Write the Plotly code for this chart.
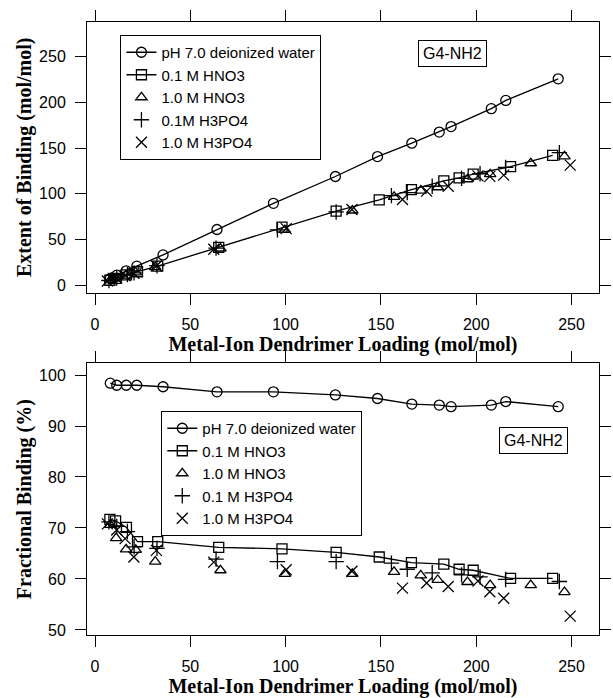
import plotly.graph_objects as go

# ---------------- data ----------------
names = ["pH 7.0 deionized water", "0.1 M HNO3", "1.0 M HNO3", "0.1M H3PO4", "1.0 M H3PO4"]
names_bottom = ["pH 7.0 deionized water", "0.1 M HNO3", "1.0 M HNO3", "0.1 M H3PO4", "1.0 M H3PO4"]

x_water = [8.0, 11.4, 16.4, 21.9, 35.7, 64.0, 93.6, 126.1, 148.2, 166.2, 180.6, 186.8, 207.9, 215.5, 243.0]
ext_water = [7.6, 11.0, 15.8, 20.9, 33.2, 61.0, 89.6, 119.0, 140.8, 155.4, 167.6, 173.6, 193.2, 202.2, 225.8]
frac_water = [98.4, 98.0, 98.0, 98.0, 97.7, 96.7, 96.7, 96.1, 95.4, 94.3, 94.1, 93.8, 94.1, 94.8, 93.8]

x_hno3_01 = [7.8, 10.8, 16.5, 22.3, 32.9, 64.9, 98.1, 126.5, 149.1, 166.0, 183.0, 191.0, 198.4, 218.0, 240.1]
ext_hno3_01 = [5.5, 7.6, 11.4, 14.8, 21.0, 41.5, 63.5, 81.2, 93.5, 104.7, 114.2, 117.5, 121.5, 129.8, 142.0]
frac_hno3_01 = [71.7, 71.4, 70.1, 67.3, 67.3, 66.2, 65.9, 65.2, 64.3, 63.2, 62.9, 61.9, 61.7, 60.1, 60.1]

x_hno3_10 = [8.0, 11.1, 16.3, 21.4, 31.6, 65.8, 99.6, 135.0, 156.9, 170.9, 179.8, 195.4, 207.3, 228.6, 246.3]
ext_hno3_10 = [5.6, 7.4, 10.6, 14.0, 19.8, 40.2, 60.5, 81.8, 96.8, 103.5, 107.2, 116.0, 121.5, 133.5, 141.0]
frac_hno3_10 = [70.6, 68.0, 65.8, 65.7, 63.4, 61.7, 61.0, 61.0, 61.4, 60.7, 59.8, 59.4, 58.8, 58.8, 57.4]

x_h3po4_01 = [7.3, 11.4, 17.0, 20.5, 32.5, 63.5, 95.7, 126.5, 155.5, 163.8, 176.9, 192.3, 202.0, 215.4, 243.6]
ext_h3po4_01 = [5.2, 8.0, 11.8, 13.6, 21.4, 40.6, 60.7, 80.2, 98.1, 101.4, 108.3, 116.9, 122.0, 129.0, 145.0]
frac_h3po4_01 = [71.2, 70.3, 69.3, 66.3, 66.0, 63.9, 63.4, 63.4, 63.1, 61.9, 61.2, 60.8, 60.4, 59.9, 59.5]

x_h3po4_10 = [6.5, 11.4, 15.8, 20.4, 32.2, 62.3, 100.3, 134.8, 161.3, 174.0, 185.3, 200.9, 207.1, 214.4, 249.3]
ext_h3po4_10 = [4.6, 7.9, 10.7, 13.1, 21.1, 39.4, 62.0, 82.9, 93.9, 103.0, 108.4, 119.7, 119.1, 120.5, 131.4]
frac_h3po4_10 = [70.8, 69.6, 67.9, 64.3, 65.6, 63.3, 61.8, 61.5, 58.2, 59.2, 58.5, 59.6, 57.5, 56.2, 52.7]

x_ticks = [0, 50, 100, 150, 200, 250]
y_ticks_top = [0, 50, 100, 150, 200, 250]
y_ticks_bottom = [50, 60, 70, 80, 90, 100]

# ---------------- styles ----------------
symbols = ["circle-open", "square-open", "triangle-up-open", "cross-thin-open", "x-thin-open"]
sizes = [10, 10, 10, 11, 11]
modes = ["lines+markers", "lines+markers", "markers", "markers", "markers"]

xs = [x_water, x_hno3_01, x_hno3_10, x_h3po4_01, x_h3po4_10]
exts = [ext_water, ext_hno3_01, ext_hno3_10, ext_h3po4_01, ext_h3po4_10]
fracs = [frac_water, frac_hno3_01, frac_hno3_10, frac_h3po4_01, frac_h3po4_10]

fig = go.Figure()
for i in range(5):
    fig.add_trace(go.Scatter(
        x=xs[i], y=exts[i], name=names[i], mode=modes[i],
        xaxis="x", yaxis="y", legend="legend",
        line=dict(color="black", width=1.3),
        marker=dict(symbol=symbols[i], size=sizes[i], color="black",
                    line=dict(color="black", width=1.3)),
    ))
for i in range(5):
    fig.add_trace(go.Scatter(
        x=xs[i], y=fracs[i], name=names_bottom[i], mode=modes[i],
        xaxis="x2", yaxis="y2", legend="legend2",
        line=dict(color="black", width=1.3),
        marker=dict(symbol=symbols[i], size=sizes[i], color="black",
                    line=dict(color="black", width=1.3)),
    ))

sans = "Liberation Sans, Arial, sans-serif"
tick_font = dict(family=sans, size=16, color="black")
title_font = dict(family="Liberation Serif, Times New Roman, serif", size=20, color="black", weight="bold")

axis_common = dict(
    showline=True, linecolor="black", linewidth=1, mirror="ticks",
    ticks="outside", ticklen=11, tickwidth=1, tickcolor="black",
    showgrid=False, zeroline=False, tickfont=tick_font,
    ticklabelstandoff=6,
)

xtitle = "Metal-Ion Dendrimer Loading (mol/mol)"
legend_font = dict(family=sans, size=15, color="black")

fig.update_layout(
    width=613, height=698,
    margin=dict(l=87, r=2, t=22, b=63),
    paper_bgcolor="white", plot_bgcolor="white",
    showlegend=True,
    xaxis=dict(**axis_common, range=[-4.2, 264.4], tickvals=x_ticks, anchor="y",
               title=dict(text=xtitle, font=title_font, standoff=2)),
    yaxis=dict(**axis_common, range=[-8, 288], tickvals=y_ticks_top, domain=[0.5586, 1], anchor="x",
               title=dict(text="Extent of Binding (mol/mol)", font=title_font, standoff=2)),
    xaxis2=dict(**axis_common, range=[-4.2, 264.4], tickvals=x_ticks, anchor="y2",
                title=dict(text=xtitle, font=title_font, standoff=2)),
    yaxis2=dict(**axis_common, range=[49.0, 102.3], tickvals=y_ticks_bottom, domain=[0, 0.4432], anchor="x2",
                title=dict(text="Fractional Binding (%)", font=title_font, standoff=2)),
    legend=dict(x=0.0653, y=0.9788, xanchor="left", yanchor="top",
                bordercolor="black", borderwidth=1, bgcolor="white",
                font=legend_font, tracegroupgap=0, itemwidth=30),
    legend2=dict(x=0.1451, y=0.3654, xanchor="left", yanchor="top",
                 bordercolor="black", borderwidth=1, bgcolor="white",
                 font=legend_font, tracegroupgap=0, itemwidth=30),
    annotations=[
        dict(text="G4-NH2", x=0.714, y=0.948, xref="paper", yref="paper",
             xanchor="center", yanchor="middle", showarrow=False,
             font=dict(family=sans, size=16, color="black"),
             bordercolor="black", borderwidth=1, borderpad=4, bgcolor="white"),
        dict(text="G4-NH2", x=0.8729, y=0.3165, xref="paper", yref="paper",
             xanchor="center", yanchor="middle", showarrow=False,
             font=dict(family=sans, size=16, color="black"),
             bordercolor="black", borderwidth=1, borderpad=4, bgcolor="white"),
    ],
)

fig.write_html("out.html")
